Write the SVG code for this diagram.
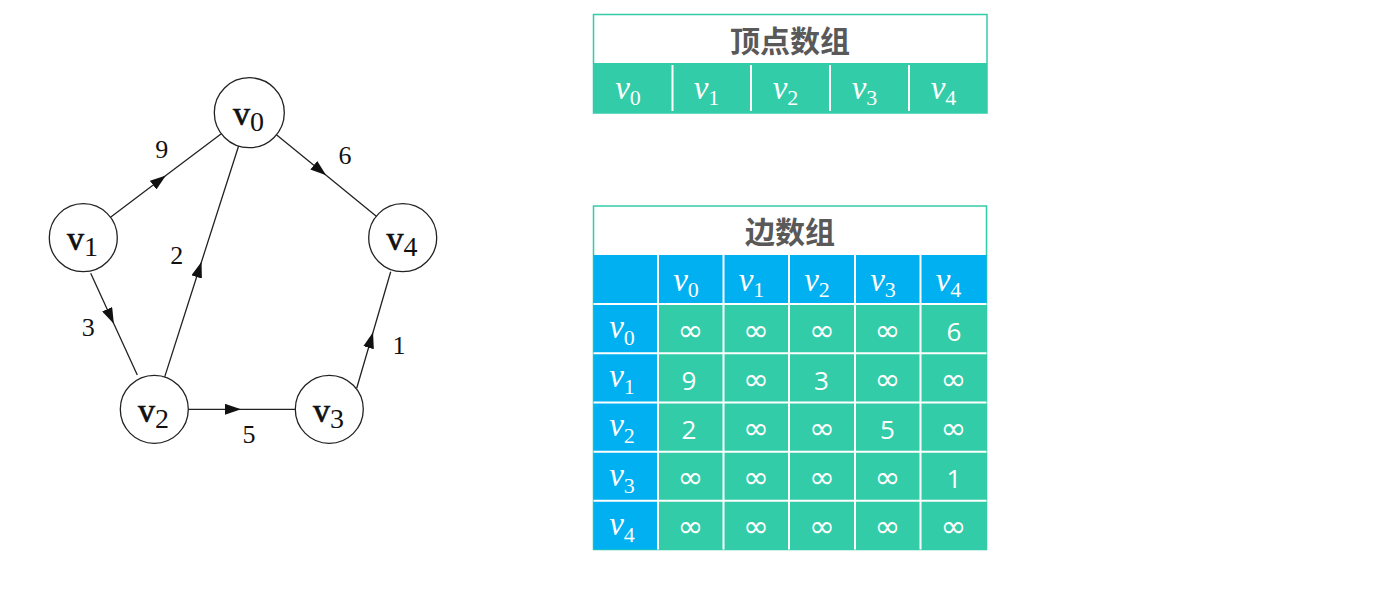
<svg xmlns="http://www.w3.org/2000/svg" width="1383" height="591" viewBox="0 0 1383 591">
<defs>
<marker id="arr" viewBox="0 0 16 11" refX="8" refY="5.5" markerWidth="16" markerHeight="11" markerUnits="userSpaceOnUse" orient="auto">
<path d="M0,0 L16,5.5 L0,11 z" fill="#111"/>
</marker>
</defs>
<style>
.node circle{fill:#fff;stroke:#222;stroke-width:1.3}
.nl{font-family:"Liberation Serif",serif;fill:#111;text-anchor:middle}
.nl .v{font-size:34px;stroke:#111;stroke-width:0.7}
.nl .d{font-size:28px}
.edge{fill:none;stroke:#222;stroke-width:1.3;marker-mid:url(#arr)}
.wl{font-family:"Liberation Serif",serif;font-size:26px;fill:#111;text-anchor:middle}
.title{font-family:"Noto Sans CJK SC",sans-serif;font-weight:bold;font-size:30px;fill:#595959;text-anchor:middle}
.mv{font-family:"Liberation Serif",serif;fill:#fff;text-anchor:middle}
.mv .v{font-size:33px;font-style:italic}
.mv .d{font-size:22px}
.inf{font-family:"DejaVu Sans",sans-serif;font-size:31px;fill:#fff;text-anchor:middle}
.num{font-family:"Open Sans",sans-serif;font-size:26px;fill:#fff;text-anchor:middle}
.grid{stroke:#fff;stroke-width:2}
.green{fill:#33CCA8}
.blue{fill:#00B0F0}
.hdr{fill:#fff;stroke:#33CCA8;stroke-width:1.5}
</style>

<g id="connectors">
<path class="edge" d="M110.5,217.2 L159.5,180.3 L221.3,133.8"/>
<path class="edge" d="M276.4,134.8 L320,170.3 L376.3,216.2"/>
<path class="edge" d="M164.7,376.9 L199.1,269.3 L238.6,146"/>
<path class="edge" d="M90.7,273.3 L110.5,316.5 L137.3,375"/>
<path class="edge" d="M188.3,409.3 L233,409.3 L295.3,409.3"/>
<path class="edge" d="M356.7,388.3 L370.8,340 L390.7,271.7"/>
<text class="wl" x="161.7" y="158">9</text>
<text class="wl" x="345" y="164">6</text>
<text class="wl" x="176.7" y="264">2</text>
<text class="wl" x="88.3" y="336">3</text>
<text class="wl" x="249" y="443">5</text>
<text class="wl" x="399" y="354">1</text>
</g>

<g id="node-v0" class="node"><circle cx="249.3" cy="112.7" r="35"/><text class="nl" x="248.5" y="125"><tspan class="v">v</tspan><tspan class="d" dy="6">0</tspan></text></g>
<g id="node-v1" class="node"><circle cx="83.3" cy="237.7" r="34"/><text class="nl" x="82.5" y="250"><tspan class="v">v</tspan><tspan class="d" dy="6">1</tspan></text></g>
<g id="node-v4" class="node"><circle cx="402.7" cy="237.7" r="34"/><text class="nl" x="402" y="250"><tspan class="v">v</tspan><tspan class="d" dy="6">4</tspan></text></g>
<g id="node-v2" class="node"><circle cx="154.3" cy="409.3" r="34"/><text class="nl" x="153.5" y="421.5"><tspan class="v">v</tspan><tspan class="d" dy="6">2</tspan></text></g>
<g id="node-v3" class="node"><circle cx="329.3" cy="409.3" r="34"/><text class="nl" x="328.5" y="421.5"><tspan class="v">v</tspan><tspan class="d" dy="6">3</tspan></text></g>

<g id="vertex-array">
<rect class="hdr" x="593.5" y="14.5" width="393.5" height="98.5"/>
<text class="title" x="790" y="52">顶点数组</text>
<rect class="green" x="593.5" y="63" width="393.5" height="50"/>
<line class="grid" x1="672.5" y1="65" x2="672.5" y2="111"/>
<line class="grid" x1="751" y1="65" x2="751" y2="111"/>
<line class="grid" x1="830" y1="65" x2="830" y2="111"/>
<line class="grid" x1="909" y1="65" x2="909" y2="111"/>
<text class="mv" x="628" y="98.5"><tspan class="v">v</tspan><tspan class="d" dy="6.5">0</tspan></text>
<text class="mv" x="706.5" y="98.5"><tspan class="v">v</tspan><tspan class="d" dy="6.5">1</tspan></text>
<text class="mv" x="785.5" y="98.5"><tspan class="v">v</tspan><tspan class="d" dy="6.5">2</tspan></text>
<text class="mv" x="864.5" y="98.5"><tspan class="v">v</tspan><tspan class="d" dy="6.5">3</tspan></text>
<text class="mv" x="943.5" y="98.5"><tspan class="v">v</tspan><tspan class="d" dy="6.5">4</tspan></text>
</g>

<g id="edge-array">
<rect class="hdr" x="593.5" y="206" width="393" height="343.5"/>
<text class="title" x="790" y="243">边数组</text>
<rect class="blue" x="593.5" y="255" width="393" height="49"/>
<rect class="blue" x="593.5" y="304" width="64.5" height="245.5"/>
<rect class="green" x="658" y="304" width="328.5" height="245.5"/>
<line class="grid" x1="658" y1="255" x2="658" y2="549.5"/>
<line class="grid" x1="723.5" y1="255" x2="723.5" y2="549.5"/>
<line class="grid" x1="789" y1="255" x2="789" y2="549.5"/>
<line class="grid" x1="855" y1="255" x2="855" y2="549.5"/>
<line class="grid" x1="920.5" y1="255" x2="920.5" y2="549.5"/>
<line class="grid" x1="593.5" y1="304" x2="986.5" y2="304"/>
<line class="grid" x1="593.5" y1="353.3" x2="986.5" y2="353.3"/>
<line class="grid" x1="593.5" y1="402.5" x2="986.5" y2="402.5"/>
<line class="grid" x1="593.5" y1="451.7" x2="986.5" y2="451.7"/>
<line class="grid" x1="593.5" y1="500.8" x2="986.5" y2="500.8"/>
<text class="mv" x="686" y="291"><tspan class="v">v</tspan><tspan class="d" dy="6">0</tspan></text>
<text class="mv" x="751.5" y="291"><tspan class="v">v</tspan><tspan class="d" dy="6">1</tspan></text>
<text class="mv" x="817" y="291"><tspan class="v">v</tspan><tspan class="d" dy="6">2</tspan></text>
<text class="mv" x="883" y="291"><tspan class="v">v</tspan><tspan class="d" dy="6">3</tspan></text>
<text class="mv" x="948.5" y="291"><tspan class="v">v</tspan><tspan class="d" dy="6">4</tspan></text>
<text class="mv" x="622" y="338"><tspan class="v">v</tspan><tspan class="d" dy="7">0</tspan></text>
<text class="mv" x="622" y="387"><tspan class="v">v</tspan><tspan class="d" dy="7">1</tspan></text>
<text class="mv" x="622" y="436"><tspan class="v">v</tspan><tspan class="d" dy="7">2</tspan></text>
<text class="mv" x="622" y="485.5"><tspan class="v">v</tspan><tspan class="d" dy="7">3</tspan></text>
<text class="mv" x="622" y="534.5"><tspan class="v">v</tspan><tspan class="d" dy="7">4</tspan></text>
<g class="inf">
<text x="690.5" y="341">∞</text><text x="756" y="341">∞</text><text x="822" y="341">∞</text><text x="887.5" y="341">∞</text>
<text x="756" y="390">∞</text><text x="887.5" y="390">∞</text><text x="953.5" y="390">∞</text>
<text x="756" y="439">∞</text><text x="822" y="439">∞</text><text x="953.5" y="439">∞</text>
<text x="690.5" y="488">∞</text><text x="756" y="488">∞</text><text x="822" y="488">∞</text><text x="887.5" y="488">∞</text>
<text x="690.5" y="537">∞</text><text x="756" y="537">∞</text><text x="822" y="537">∞</text><text x="887.5" y="537">∞</text><text x="953.5" y="537">∞</text>
</g>
<g class="num">
<text x="954" y="340.5">6</text>
<text x="689" y="389.5">9</text><text x="821.5" y="389.5">3</text>
<text x="689" y="438.5">2</text><text x="887.5" y="438.5">5</text>
<text x="954" y="487.5">1</text>
</g>
</g>
</svg>
